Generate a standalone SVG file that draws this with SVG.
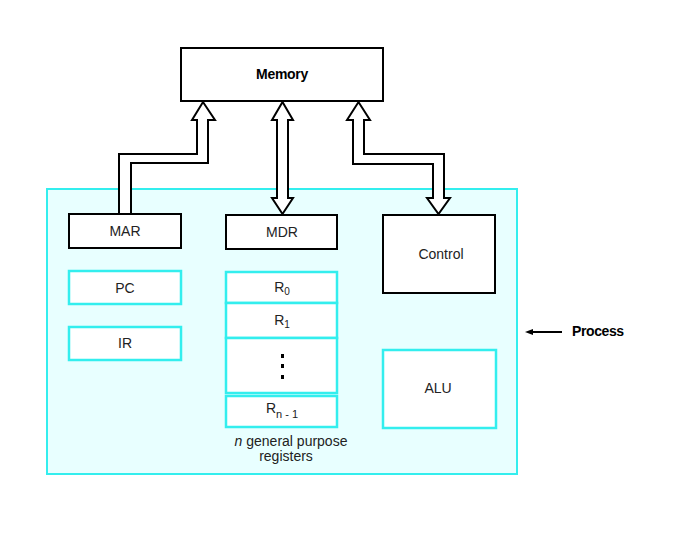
<svg xmlns="http://www.w3.org/2000/svg" width="684" height="538" viewBox="0 0 684 538">
<style>
text{font-family:"Liberation Sans",Arial,sans-serif;fill:#222;font-size:14px;text-anchor:middle}
.b{font-weight:bold;fill:#000}
.l{text-anchor:start}
.blk{fill:#fff;stroke:#000;stroke-width:2}
.cy{fill:#fff;stroke:#33eeee;stroke-width:2.5}
.bus{fill:#fff;stroke:#000;stroke-width:2;stroke-linejoin:miter}
</style>
<rect width="684" height="538" fill="#fff"/>
<g id="processor">
<rect x="47" y="189" width="470" height="285" fill="#e8ffff" stroke="#33eeee" stroke-width="2"/>
</g>
<g id="memory">
<rect class="blk" x="181" y="48" width="202" height="53"/>
<text class="b" x="282" y="79" font-size="12.5" letter-spacing="-0.3">Memory</text>
</g>
<g id="connectors">
<path class="bus" d="M119,214 L119,154 L197,154 L197,120 L192,120 L203,102 L215,120 L208,120 L208,163 L131,163 L131,214 Z"/>
<path class="bus" d="M277,120 L272,120 L282.5,102 L293,120 L288,120 L288,198 L293,198 L282.5,214 L272,198 L277,198 Z"/>
<path class="bus" d="M364,120 L364,154 L444,154 L444,198 L450,198 L438.5,214 L427,198 L433,198 L433,164 L353,164 L353,120 L347,120 L358.5,102 L370,120 Z"/>
<line x1="531" y1="332" x2="562" y2="332" stroke="#000" stroke-width="2"/>
<path d="M525,332 L533,329 L533,335 Z" fill="#000"/>
</g>
<g id="mar">
<rect class="blk" x="69" y="214" width="112" height="34"/>
<text x="125" y="236">MAR</text>
</g>
<g id="mdr">
<rect class="blk" x="226" y="215" width="111" height="34"/>
<text x="282" y="237">MDR</text>
</g>
<g id="control">
<rect class="blk" x="383" y="215" width="112" height="78"/>
<text x="441" y="259">Control</text>
</g>
<g id="pc">
<rect class="cy" x="69" y="271" width="112" height="33"/>
<text x="125" y="293">PC</text>
</g>
<g id="ir">
<rect class="cy" x="69" y="327" width="112" height="33"/>
<text x="125" y="348">IR</text>
</g>
<g id="registers">
<rect class="cy" x="226" y="272" width="111" height="31"/>
<text x="282" y="292">R<tspan font-size="10" dy="3">0</tspan></text>
<rect class="cy" x="226" y="303" width="111" height="35"/>
<text x="282" y="325">R<tspan font-size="10" dy="3">1</tspan></text>
<rect class="cy" x="226" y="338" width="111" height="55"/>
<rect x="281" y="354" width="3" height="4" fill="#000"/>
<rect x="281" y="364" width="3" height="4" fill="#000"/>
<rect x="281" y="375" width="3" height="4" fill="#000"/>
<rect class="cy" x="226" y="396" width="111" height="31"/>
<text x="282" y="413">R<tspan font-size="11" dy="5">n - 1</tspan></text>
<text x="291" y="446" font-size="14.5"><tspan font-style="italic">n</tspan> general purpose</text>
<text x="286" y="461" font-size="14.5">registers</text>
</g>
<g id="alu">
<rect class="cy" x="383" y="350" width="113" height="78"/>
<text x="438" y="393">ALU</text>
</g>
<g id="process-label">
<text class="b l" x="572" y="336" font-size="13" letter-spacing="-0.4">Process</text>
</g>
</svg>
